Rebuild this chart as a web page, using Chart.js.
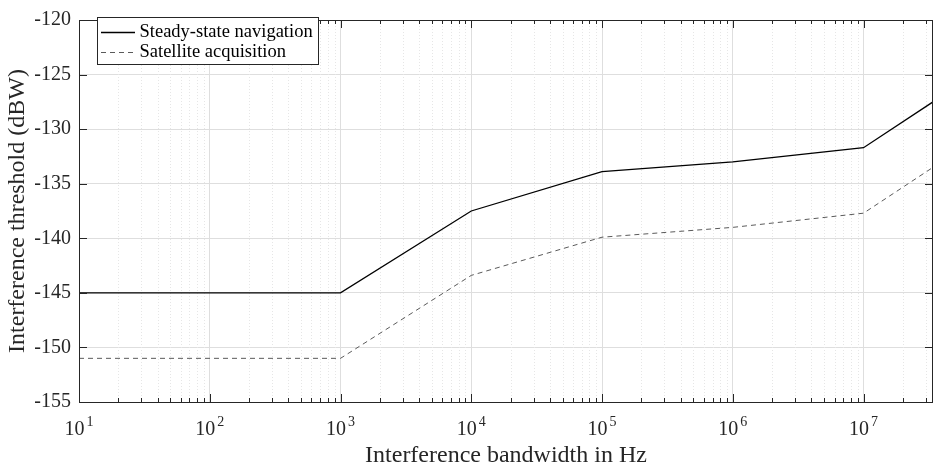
<!DOCTYPE html>
<html>
<head>
<meta charset="utf-8">
<script src="https://cdn.jsdelivr.net/npm/chart.js@4.4.1/dist/chart.umd.min.js"></script>
<style>
  html, body { margin: 0; padding: 0; background: #fff; }
  #wrap { width: 934px; height: 469px; }
</style>
</head>
<body>
<div id="wrap"><canvas id="umbral" width="934" height="469"></canvas></div>
<script>
// --- DATOS ---
const bandwidthHz = [10, 1e3, 1e4, 1e5, 1e6, 1e7, 3.4e7];
const steadyStateNav = [-145, -145, -137.5, -133.9, -133.0, -131.7, -127.5];
const satAcquisition = [-151, -151, -143.4, -139.9, -139.0, -137.7, -133.5];
const seriesNames = ['Steady-state navigation', 'Satellite acquisition'];
const xDecades = [1, 2, 3, 4, 5, 6, 7];
const yTicks = [-155, -150, -145, -140, -135, -130, -125, -120];

const FONT = "'Liberation Serif', 'Times New Roman', serif";
const AXIS_COLOR = '#262626';

const xMin = 10, xMax = 3.4e7;

const isDecade = v => Math.abs(Math.log10(v) - Math.round(Math.log10(v))) < 1e-9;

// ticks del eje log: 1..9 x 10^n
const buildLogTicks = () => {
    const out = [];
    for (let n = 1; n <= 8; n++) {
        for (let m = 1; m <= 9; m++) {
            const v = m * Math.pow(10, n);
            if (v >= xMin && v <= xMax * 1.0001) out.push({ value: v });
        }
    }
    return out;
};

// --- PLUGIN: rejilla menor punteada, caja con ticks, etiquetas 10^n, leyenda ---
const matlabLook = {
    id: 'matlabLook',
    beforeDatasetsDraw(chart) {
        const { ctx, chartArea: a, scales: { x } } = chart;
        ctx.save();
        ctx.strokeStyle = '#e6e6e6';
        ctx.lineWidth = 1;
        ctx.setLineDash([1, 2]);
        x.ticks.forEach(t => {
            if (isDecade(t.value)) return;
            const px = Math.round(x.getPixelForValue(t.value)) + 0.5;
            ctx.beginPath();
            ctx.moveTo(px, a.top);
            ctx.lineTo(px, a.bottom);
            ctx.stroke();
        });
        ctx.restore();
    },
    afterDatasetsDraw(chart) {
        const { ctx, chartArea: a, scales: { x, y } } = chart;
        ctx.save();
        ctx.strokeStyle = AXIS_COLOR;
        ctx.lineWidth = 1;
        ctx.setLineDash([]);

        // ticks eje x (abajo y arriba)
        x.ticks.forEach(t => {
            const px = Math.round(x.getPixelForValue(t.value)) + 0.5;
            const len = isDecade(t.value) ? 8 : 4;
            ctx.beginPath();
            ctx.moveTo(px, a.bottom); ctx.lineTo(px, a.bottom - len);
            ctx.moveTo(px, a.top); ctx.lineTo(px, a.top + len);
            ctx.stroke();
        });
        // ticks eje y (izquierda y derecha)
        yTicks.forEach(v => {
            const py = Math.round(y.getPixelForValue(v)) + 0.5;
            ctx.beginPath();
            ctx.moveTo(a.left, py); ctx.lineTo(a.left + 8, py);
            ctx.moveTo(a.right, py); ctx.lineTo(a.right - 8, py);
            ctx.stroke();
        });
        // caja
        ctx.strokeRect(Math.round(a.left) + 0.5, Math.round(a.top) + 0.5,
                       Math.round(a.right - a.left) - 1, Math.round(a.bottom - a.top));

        // etiquetas 10^n
        ctx.fillStyle = AXIS_COLOR;
        ctx.textBaseline = 'alphabetic';
        ctx.textAlign = 'left';
        xDecades.forEach(n => {
            const px = x.getPixelForValue(Math.pow(10, n));
            ctx.font = '20px ' + FONT;
            const wBase = ctx.measureText('10').width;
            ctx.font = '14px ' + FONT;
            const wExp = ctx.measureText(String(n)).width;
            const start = px - (wBase + 2 + wExp) / 2;
            ctx.font = '20px ' + FONT;
            ctx.fillText('10', start, a.bottom + 33);
            ctx.font = '14px ' + FONT;
            ctx.fillText(String(n), start + wBase + 2, a.bottom + 24);
        });

        // leyenda con caja
        const lx = 97.5, ly = 17.5, lw = 221, lh = 47;
        ctx.fillStyle = '#fff';
        ctx.fillRect(lx, ly, lw, lh);
        ctx.strokeRect(lx, ly, lw, lh);
        chart.data.datasets.forEach((ds, i) => {
            const rowY = 32.5 + i * 20;
            ctx.strokeStyle = ds.borderColor;
            ctx.lineWidth = ds.borderWidth;
            ctx.setLineDash(ds.borderDash || []);
            ctx.beginPath();
            ctx.moveTo(101, rowY); ctx.lineTo(135, rowY);
            ctx.stroke();
            ctx.setLineDash([]);
            ctx.fillStyle = '#000';
            ctx.font = '18.5px ' + FONT;
            ctx.textBaseline = 'middle';
            ctx.fillText(ds.label, 139.5, rowY);
        });
        ctx.restore();
    }
};

const ctxUmbral = document.getElementById('umbral').getContext('2d');

new Chart(ctxUmbral, {
    type: 'line',
    data: {
        datasets: [
            {
                label: seriesNames[0],
                data: bandwidthHz.map((b, i) => ({ x: b, y: steadyStateNav[i] })),
                borderColor: '#000000',
                borderWidth: 1.3,
                pointRadius: 0,
                tension: 0
            },
            {
                label: seriesNames[1],
                data: bandwidthHz.map((b, i) => ({ x: b, y: satAcquisition[i] })),
                borderColor: '#5a5a5a',
                borderWidth: 1,
                borderDash: [5, 4],
                pointRadius: 0,
                tension: 0
            }
        ]
    },
    options: {
        responsive: false,
        animation: false,
        devicePixelRatio: 1,
        layout: { padding: { top: 14, right: 1, left: 0, bottom: 0 } },
        plugins: { legend: { display: false }, tooltip: { enabled: false } },
        scales: {
            x: {
                type: 'logarithmic',
                min: xMin,
                max: xMax,
                afterBuildTicks: s => { s.ticks = buildLogTicks(); },
                afterFit: s => { s.height = 67; },
                ticks: { display: false },
                grid: {
                    drawTicks: false,
                    color: c => (c.tick && isDecade(c.tick.value)) ? '#dedede' : 'rgba(0,0,0,0)'
                },
                border: { display: false },
                title: {
                    display: true,
                    text: 'Interference bandwidth in Hz',
                    color: AXIS_COLOR,
                    font: { family: FONT, size: 24, lineHeight: 1 },
                    padding: { top: 0, bottom: 1 }
                }
            },
            y: {
                type: 'linear',
                min: -155,
                max: -120,
                afterBuildTicks: s => { s.ticks = yTicks.map(v => ({ value: v })); },
                afterFit: s => { s.width = 79; },
                ticks: {
                    color: AXIS_COLOR,
                    font: { family: FONT, size: 20 },
                    padding: 8,
                    callback: v => String(v)
                },
                grid: { drawTicks: false, color: '#dedede' },
                border: { display: false },
                title: {
                    display: true,
                    text: 'Interference threshold (dBW)',
                    color: AXIS_COLOR,
                    font: { family: FONT, size: 24, lineHeight: 1 },
                    padding: { top: 6, bottom: 0 }
                }
            }
        }
    },
    plugins: [matlabLook]
});
</script>
</body>
</html>
